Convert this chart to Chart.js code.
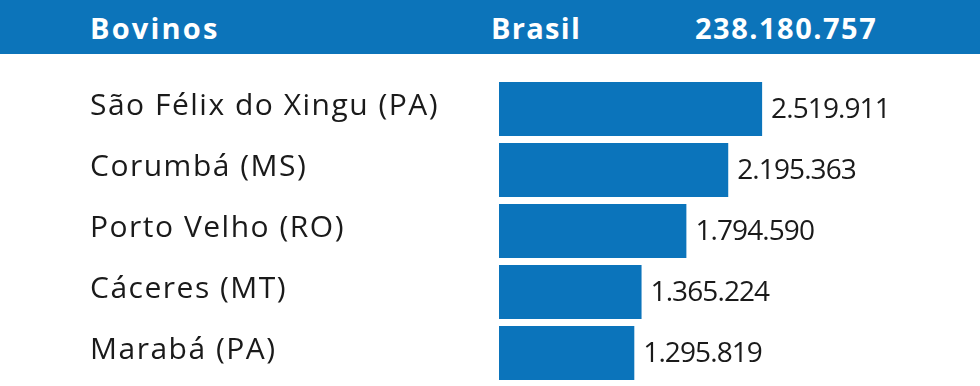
<!DOCTYPE html>
<html><head><meta charset="utf-8">
<script src="https://cdn.jsdelivr.net/npm/chart.js@4"></script>
<style>
html,body{margin:0;padding:0;background:#fff;width:980px;height:386px;overflow:hidden;font-family:"Open Sans",sans-serif;}
#hdr{position:absolute;left:0;top:0;width:980px;height:54px;background:#0c74ba;color:#fff;font-weight:700;font-size:29px;}
#hdr span{position:absolute;top:8px;}
#wrap{position:absolute;left:0;top:0;width:980px;height:386px;}
</style></head><body>
<div id="wrap"><canvas id="c" width="980" height="386"></canvas></div>
<div id="hdr"><span id="h1" style="left:90px;letter-spacing:2.2px">Bovinos</span><span id="h2" style="left:491px;letter-spacing:1.3px">Brasil</span><span id="h3" style="left:695px;letter-spacing:1.5px">238.180.757</span></div>
<script>
const title = "Bovinos";
const totalLabel = "Brasil";
const totalValue = "238.180.757";
const categories = ["São Félix do Xingu (PA)","Corumbá (MS)","Porto Velho (RO)","Cáceres (MT)","Marabá (PA)"];
const values = [2519911, 2195363, 1794590, 1365224, 1295819];
const valueLabels = ["2.519.911","2.195.363","1.794.590","1.365.224","1.295.819"];

const FONT = '"Open Sans", sans-serif';
const labelsPlugin = {
  id:'labelsPlugin',
  afterDatasetsDraw(chart){
    const ctx = chart.ctx;
    const meta = chart.getDatasetMeta(0);
    ctx.save();
    ctx.fillStyle = '#1a1a1a';
    ctx.textBaseline = 'middle';
    meta.data.forEach((bar,i)=>{
      ctx.textAlign='left';
      ctx.font = '400 28px ' + FONT;
      ctx.letterSpacing = '-0.9px';
      ctx.fillText(valueLabels[i], bar.x + 9, bar.y + 1);
      ctx.font = '400 30px ' + FONT;
      ctx.letterSpacing = '1.5px';
      ctx.fillText(categories[i], 90, bar.y - 3);
    });
    ctx.restore();
  }
};

new Chart(document.getElementById('c'), {
  type:'bar',
  data:{labels:categories, datasets:[{data:values, backgroundColor:'#0b74bb', borderWidth:0, barPercentage:0.885, categoryPercentage:1}]},
  options:{
    indexAxis:'y', responsive:false, animation:false, devicePixelRatio:1,
    layout:{padding:{left:499, right:20, top:78.5, bottom:2.5}},
    plugins:{legend:{display:false}, tooltip:{enabled:false}},
    scales:{
      x:{display:false, min:0, max:4415000},
      y:{display:false}
    }
  },
  plugins:[labelsPlugin]
});
</script>
</body></html>
